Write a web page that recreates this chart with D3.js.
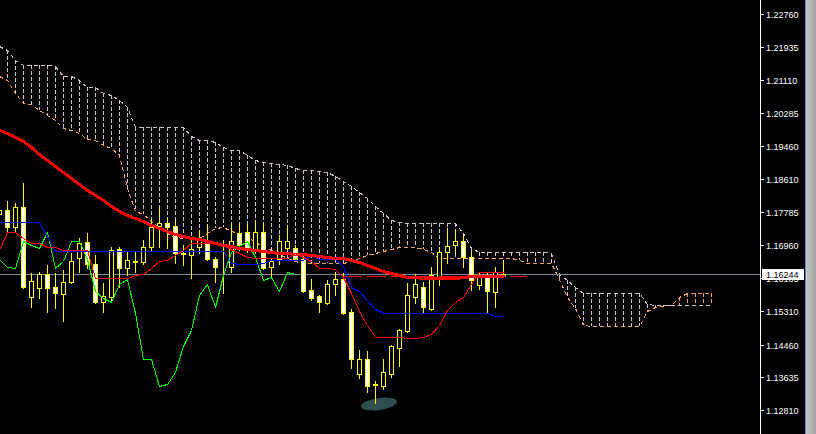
<!DOCTYPE html>
<html><head><meta charset="utf-8">
<script src="https://cdn.jsdelivr.net/npm/d3@7"></script>
<style>html,body{margin:0;padding:0;background:#000;overflow:hidden}</style>
</head><body>
<svg id="c" width="816" height="434"></svg>
<script>
// ---- DATA (bar index 0 = first, partially visible bar) ----
const opens = [1.17742,1.17842,1.17414,1.17917,1.15655,1.15881,1.16234,1.15906,1.15731,1.16033,
1.16636,1.17038,1.16485,1.15530,1.15655,1.16861,1.16384,1.16560,1.16535,1.16912,
1.17439,1.17515,1.17439,1.16761,1.16711,1.16912,1.17088,1.16610,1.16384,1.16409,
1.17264,1.17289,1.16861,1.17289,1.16409,1.16610,1.16886,1.16886,1.16610,1.15831,
1.15681,1.15505,1.15982,1.16108,1.15279,1.13720,1.14097,1.13444,1.13419,1.13720,
1.14374,1.14801,1.15655,1.15906,1.15354,1.16158,1.16786,1.16962,1.17063,1.16661,
1.15957,1.16183,1.15781,1.16195];
const highs = [1.17867,1.18068,1.18018,1.18521,1.16259,1.16284,1.16460,1.16259,1.16334,1.16761,
1.17138,1.17264,1.16711,1.16008,1.16912,1.16912,1.16786,1.16786,1.17088,1.17615,
1.17917,1.17640,1.17590,1.16962,1.17138,1.17339,1.17465,1.16661,1.17088,1.17490,
1.17490,1.17465,1.17590,1.17515,1.16610,1.17214,1.17465,1.16962,1.16636,1.16108,
1.15706,1.16083,1.16284,1.16259,1.15354,1.14324,1.14299,1.13545,1.14097,1.14450,
1.14851,1.16008,1.16234,1.16033,1.16409,1.16912,1.17389,1.17339,1.17214,1.16786,
1.16284,1.16284,1.16409,1.16585];
const lows = [1.17716,1.17314,1.17314,1.15881,1.15404,1.15630,1.15279,1.15379,1.15052,1.16008,
1.16284,1.16384,1.15505,1.15279,1.15530,1.15906,1.16209,1.16284,1.16485,1.16836,
1.16912,1.16886,1.16510,1.16460,1.16133,1.16761,1.16585,1.16033,1.15756,1.16284,
1.16836,1.16786,1.16761,1.16359,1.16183,1.16485,1.16861,1.16585,1.15781,1.15580,
1.15279,1.15480,1.15706,1.15229,1.13871,1.13620,1.13268,1.12992,1.13343,1.13645,
1.13921,1.14776,1.15505,1.15279,1.15329,1.15957,1.16510,1.16761,1.16409,1.15831,
1.15856,1.15279,1.15404,1.16195];
const closes = [1.17842,1.17414,1.17917,1.15906,1.16058,1.16234,1.15881,1.15756,1.16033,1.16560,
1.17013,1.16485,1.15530,1.15681,1.16836,1.16384,1.16585,1.16535,1.16912,1.17414,
1.17515,1.17414,1.16761,1.16736,1.16861,1.17138,1.16610,1.16409,1.16390,1.17063,
1.16962,1.16886,1.17289,1.16384,1.16560,1.17063,1.17063,1.16610,1.15806,1.15630,
1.15530,1.15982,1.16108,1.15254,1.14097,1.14097,1.13419,1.13469,1.13771,1.14424,
1.14826,1.15706,1.15982,1.15404,1.16209,1.16786,1.16937,1.17063,1.16661,1.16083,
1.16158,1.15806,1.16284,1.16244];

const tenkan = [1.16836,1.17289,1.17289,1.17138,1.17013,1.17013,1.16912,1.16912,1.16836,1.16836,
1.16836,1.16836,1.16133,1.16133,1.16133,1.16133,1.16133,1.16209,1.16234,1.16384,
1.16560,1.16585,1.16711,1.16836,1.17013,1.17013,1.17013,1.17013,1.16962,1.16861,
1.16761,1.16661,1.16636,1.16636,1.16636,1.16636,1.16636,1.16761,1.16661,1.16560,
1.16384,1.16384,1.16359,1.16158,1.15756,1.15304,1.14952,1.14651,1.14651,1.14651,
1.14651,1.14626,1.14626,1.14651,1.14726,1.14952,1.15329,1.15530,1.15655,1.15982,
1.16284,1.16284,1.16284,1.16284];
const kijun = [1.17540,1.17540,1.17540,1.17540,1.17540,1.17540,1.17188,1.16811,1.16811,1.16811,
1.16811,1.16811,1.16811,1.16811,1.16811,1.16811,1.16811,1.16811,1.16811,1.16811,
1.16811,1.16811,1.16811,1.16811,1.16811,1.16811,1.16811,1.16811,1.16811,1.16510,
1.16485,1.16485,1.16485,1.16510,1.16585,1.16585,1.16585,1.16585,1.16585,1.16711,
1.16610,1.16610,1.16610,1.16434,1.15906,1.15806,1.15580,1.15354,1.15254,1.15254,
1.15254,1.15254,1.15254,1.15254,1.15254,1.15254,1.15254,1.15254,1.15254,1.15254,
1.15254,1.15254,1.15178,1.15178];
const maLine = [1.19852,1.19777,1.19676,1.19576,1.19425,1.19249,1.19098,1.18948,1.18797,1.18646,
1.18495,1.18344,1.18219,1.18093,1.17942,1.17817,1.17716,1.17640,1.17565,1.17465,
1.17389,1.17314,1.17238,1.17188,1.17138,1.17113,1.17063,1.17013,1.16962,1.16937,
1.16886,1.16861,1.16836,1.16811,1.16786,1.16761,1.16761,1.16736,1.16736,1.16711,
1.16686,1.16661,1.16636,1.16636,1.16585,1.16535,1.16460,1.16384,1.16309,1.16259,
1.16209,1.16158,1.16158,1.16133,1.16133,1.16133,1.16133,1.16133,1.16158,1.16171,
1.16171,1.16171,1.16171,1.16171];
// Chikou span: closes of bars 26..63 plotted 26 bars back
const chikou = [1.16610,1.16409,1.16390,1.17063,1.16962,1.16886,1.17289,1.16384,1.16560,1.17063,
1.17063,1.16610,1.15806,1.15630,1.15530,1.15982,1.16108,1.15254,1.14097,1.14097,
1.13419,1.13469,1.13771,1.14424,1.14826,1.15706,1.15982,1.15404,1.16209,1.16786,
1.16937,1.17063,1.16661,1.16083,1.16158,1.15806,1.16284,1.16244];
const senkouA = [1.21209,1.21109,1.20782,1.20531,1.20506,1.20355,1.20229,1.20103,1.19902,1.19852,
1.19777,1.19626,1.19601,1.19475,1.19400,1.19224,1.18395,1.17817,1.17741,1.17565,
1.17389,1.17264,1.17163,1.17138,1.17138,1.17138,1.17264,1.17389,1.17414,1.17314,
1.17264,1.17188,1.17037,1.16937,1.16836,1.16736,1.16636,1.16560,1.16510,1.16510,
1.16510,1.16510,1.16510,1.16510,1.16560,1.16636,1.16711,1.16761,1.16811,1.16861,
1.16912,1.16912,1.16912,1.16861,1.16786,1.16636,1.16636,1.16636,1.16636,1.16636,
1.16636,1.16636,1.16636,1.16636,1.16636,1.16585,1.16510,1.16510,1.16510,1.16510,
1.16108,1.15655,1.15379,1.14952,1.14927,1.14927,1.14927,1.14927,1.14927,1.14927,
1.14927,1.15304,1.15404,1.15429,1.15454,1.15655,1.15756,1.15756,1.15756,1.15756];
const senkouB = [1.21963,1.21863,1.21611,1.21486,1.21486,1.21486,1.21486,1.21460,1.21209,1.21209,
1.21109,1.20933,1.20933,1.20782,1.20732,1.20606,1.20430,1.19928,1.19928,1.19928,
1.19928,1.19928,1.19928,1.19928,1.19701,1.19601,1.19601,1.19551,1.19425,1.19350,
1.19350,1.19224,1.19098,1.19048,1.19023,1.18998,1.18973,1.18897,1.18847,1.18847,
1.18822,1.18797,1.18696,1.18571,1.18445,1.18294,1.18143,1.17942,1.17766,1.17590,
1.17540,1.17515,1.17515,1.17515,1.17515,1.17515,1.17515,1.17515,1.17264,1.16886,
1.16786,1.16786,1.16786,1.16786,1.16786,1.16786,1.16786,1.16786,1.16786,1.16761,
1.16234,1.16083,1.15907,1.15756,1.15756,1.15756,1.15756,1.15756,1.15756,1.15756,
1.15756,1.15479,1.15454,1.15454,1.15454,1.15454,1.15454,1.15454,1.15454,1.15454];

const tickLabels = ["1.22760","1.21935","1.21110","1.20285","1.19460","1.18610","1.17785",
                    "1.16960","1.16135","1.15310","1.14460","1.13635","1.12810"];
const bidPrice = 1.16244;
const levelPrice = 1.16171, levelFrom = 43, levelTo = 66;
const blob = {bar: 47.5, price: 1.12967};

// ---- STYLE ----
const C = {bg:"#000", candle:"#FFFF00", bull:"#000", bear:"#FFFFFF", tenkan:"#FF0000",
  kijun:"#0000FF", chikou:"#00FF00", ma:"#FF0000", sandy:"#F4A460", thistle:"#D8BFD8",
  bid:"#778899", axis:"#FFFFFF", blob:"#2F4F4F"};

const svg = d3.select("#c");
const x = d3.scaleLinear().domain([0, 95]).range([-1, 759]);
const y = d3.scaleLinear().domain([1.12213, 1.23119]).range([434, 0]);
const px = i => Math.round(x(i)) + 0.5;

const defs = svg.append("defs");
defs.append("clipPath").attr("id","plot").append("rect").attr("x",0).attr("y",0).attr("width",760).attr("height",434);
const grad = defs.append("linearGradient").attr("id","sb").attr("x1","0").attr("x2","1").attr("y1","0").attr("y2","0");
grad.append("stop").attr("offset","0").attr("stop-color","#c4c4c4");
grad.append("stop").attr("offset","1").attr("stop-color","#a4a4a4");

svg.append("rect").attr("width",816).attr("height",434).attr("fill",C.bg);
const g = svg.append("g").attr("clip-path","url(#plot)");

// cloud hatch
const cloud = senkouA.map((a,i)=>({i, a, b: senkouB[i]}));
g.append("g").selectAll("line").data(cloud).join("line")
  .attr("x1", d=>px(d.i)).attr("x2", d=>px(d.i))
  .attr("y1", d=>Math.round(y(Math.max(d.a,d.b)))).attr("y2", d=>Math.round(y(Math.min(d.a,d.b))))
  .attr("stroke", d=> d.a > d.b ? C.sandy : C.thistle)
  .attr("stroke-width",1).attr("stroke-dasharray","4,2").attr("shape-rendering","crispEdges");

const lineGen = d3.line().x((d,i)=>px(i)).y(d=>Math.round(y(d))+0.5);
g.append("path").datum(senkouA).attr("d",lineGen).attr("fill","none").attr("stroke",C.sandy)
  .attr("stroke-dasharray","4,3").attr("shape-rendering","crispEdges");
g.append("path").datum(senkouB).attr("d",lineGen).attr("fill","none").attr("stroke",C.thistle)
  .attr("stroke-dasharray","4,3").attr("shape-rendering","crispEdges");

// bid line
g.append("line").attr("x1",0).attr("x2",760)
  .attr("y1",Math.round(y(bidPrice))+0.5).attr("y2",Math.round(y(bidPrice))+0.5)
  .attr("stroke",C.bid).attr("shape-rendering","crispEdges");

// blob
g.append("ellipse").attr("cx",x(blob.bar)).attr("cy",y(blob.price)).attr("rx",18).attr("ry",6)
  .attr("fill",C.blob).attr("transform",`rotate(-8 ${x(blob.bar)} ${y(blob.price)})`);

// candles
const bars = opens.map((o,i)=>({i, o, h: highs[i], l: lows[i], c: closes[i]}));
const cg = g.append("g");
cg.selectAll("line").data(bars).join("line")
  .attr("x1", d=>px(d.i)).attr("x2", d=>px(d.i))
  .attr("y1", d=>Math.round(y(d.h))).attr("y2", d=>Math.round(y(d.l))+1)
  .attr("stroke",C.candle).attr("shape-rendering","crispEdges");
cg.selectAll("rect").data(bars).join("rect")
  .attr("x", d=>Math.round(x(d.i))-1.5).attr("width",4)
  .attr("y", d=>Math.round(y(Math.max(d.o,d.c)))+0.5)
  .attr("height", d=>Math.max(0, Math.round(y(Math.min(d.o,d.c))) - Math.round(y(Math.max(d.o,d.c)))))
  .attr("fill", d=> d.c >= d.o ? C.bull : C.bear)
  .attr("stroke",C.candle).attr("shape-rendering","crispEdges");

// level (dashed red)
const lv = [levelFrom, levelTo];
g.append("line").attr("x1",x(lv[0])).attr("x2",x(lv[1]))
  .attr("y1",Math.round(y(levelPrice))+0.5).attr("y2",Math.round(y(levelPrice))+0.5)
  .attr("stroke",C.ma).attr("stroke-dasharray","19,5").attr("shape-rendering","crispEdges");

// indicator lines
function drawLine(data, color, w){
  g.append("path").datum(data).attr("d",lineGen).attr("fill","none")
   .attr("stroke",color).attr("stroke-width",w).attr("shape-rendering","crispEdges")
   .attr("stroke-linejoin","round");
}
drawLine(chikou, C.chikou, 1);
drawLine(kijun, C.kijun, 1);
drawLine(tenkan, C.tenkan, 1);
drawLine(maLine, C.ma, 3);

// axis
svg.append("line").attr("x1",760.5).attr("x2",760.5).attr("y1",0).attr("y2",434)
  .attr("stroke",C.axis).attr("shape-rendering","crispEdges");
const tg = svg.append("g");
tickLabels.forEach(t=>{
  const ty = Math.round(y(+t))+0.5;
  tg.append("line").attr("x1",761).attr("x2",764).attr("y1",ty).attr("y2",ty)
    .attr("stroke",C.axis).attr("shape-rendering","crispEdges");
  tg.append("text").attr("x",766).attr("y",ty+3.5).text(t)
    .attr("fill",C.axis).attr("font-family","Liberation Sans, Arial, sans-serif").attr("font-size","9px");
});
const by = Math.round(y(bidPrice));
svg.append("rect").attr("x",762).attr("y",by-5).attr("width",42).attr("height",11).attr("fill","#fff");
svg.append("text").attr("x",766).attr("y",by+4).text(bidPrice.toFixed(5))
  .attr("fill","#000").attr("font-family","Liberation Sans, Arial, sans-serif").attr("font-size","9px");

// right frame
svg.append("rect").attr("x",805).attr("y",0).attr("width",1).attr("height",434).attr("fill","#5b84b8");
svg.append("rect").attr("x",806).attr("y",0).attr("width",10).attr("height",434).attr("fill","url(#sb)");
</script>
</body></html>
